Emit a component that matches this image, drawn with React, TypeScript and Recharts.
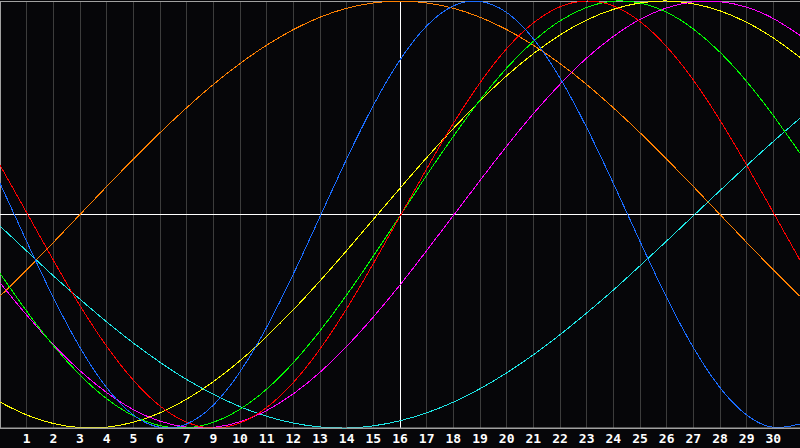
import React from "react"
import {
  LineChart,
  Line,
  XAxis,
  YAxis,
  CartesianGrid,
  ReferenceLine,
  ReferenceArea,
} from "recharts"

// x positions (day slots across the chart, 0 = left edge)
const DAYS = [0, 1, 2, 3, 4, 5, 6, 7, 8, 9, 10, 11, 12, 13, 14, 15, 16, 17, 18, 19, 20, 21, 22, 23, 24, 25, 26, 27, 28, 29, 30]

// tick slots and the date printed under each one (the "8" is absent on the original)
const TICK_SLOTS = [1, 2, 3, 4, 5, 6, 7, 8, 9, 10, 11, 12, 13, 14, 15, 16, 17, 18, 19, 20, 21, 22, 23, 24, 25, 26, 27, 28, 29]
const TICK_LABELS = ["1", "2", "3", "4", "5", "6", "7", "9", "10", "11", "12", "13", "14", "15", "16", "17", "18", "19", "20", "21", "22", "23", "24", "25", "26", "27", "28", "29", "30"]

const TODAY_SLOT = 15

// curve values, one per day slot (range -1..1)
const blue = [0.146, -0.126, -0.389, -0.623, -0.811, -0.939, -0.997, -0.981, -0.893, -0.737, -0.528, -0.279, -0.01, 0.26, 0.511, 0.724, 0.883, 0.977, 0.998, 0.946, 0.823, 0.639, 0.407, 0.146, -0.126, -0.389, -0.623, -0.811, -0.939, -0.997, -0.981]
const red = [0.231, 0.009, -0.214, -0.427, -0.617, -0.776, -0.897, -0.973, -1.0, -0.977, -0.904, -0.787, -0.63, -0.441, -0.23, -0.008, 0.214, 0.427, 0.617, 0.777, 0.897, 0.973, 1.0, 0.977, 0.904, 0.786, 0.63, 0.441, 0.231, 0.009, -0.214]
const green = [-0.276, -0.453, -0.614, -0.752, -0.863, -0.943, -0.989, -0.999, -0.973, -0.912, -0.818, -0.694, -0.545, -0.377, -0.195, -0.006, 0.184, 0.366, 0.536, 0.686, 0.811, 0.907, 0.97, 0.999, 0.991, 0.947, 0.869, 0.76, 0.623, 0.463, 0.287]
const orange = [-0.383, -0.259, -0.131, 0, 0.131, 0.259, 0.383, 0.5, 0.609, 0.707, 0.793, 0.866, 0.924, 0.966, 0.991, 1.0, 0.991, 0.966, 0.924, 0.866, 0.793, 0.707, 0.609, 0.5, 0.383, 0.259, 0.131, 0, -0.131, -0.259, -0.383]
const yellow = [-0.879, -0.939, -0.979, -0.998, -0.996, -0.973, -0.929, -0.865, -0.783, -0.685, -0.571, -0.446, -0.311, -0.169, -0.023, 0.123, 0.266, 0.403, 0.532, 0.65, 0.753, 0.841, 0.911, 0.961, 0.991, 1.0, 0.987, 0.954, 0.9, 0.827, 0.736]
const magenta = [-0.32, -0.471, -0.61, -0.732, -0.834, -0.914, -0.968, -0.996, -0.997, -0.971, -0.918, -0.84, -0.739, -0.618, -0.48, -0.33, -0.169, -0.005, 0.159, 0.32, 0.472, 0.61, 0.733, 0.834, 0.914, 0.968, 0.996, 0.997, 0.971, 0.918, 0.839]
const cyan = [-0.054, -0.171, -0.287, -0.397, -0.503, -0.602, -0.692, -0.773, -0.842, -0.9, -0.945, -0.977, -0.995, -1.0, -0.99, -0.966, -0.929, -0.879, -0.816, -0.742, -0.657, -0.563, -0.461, -0.354, -0.24, -0.124, -0.006, 0.112, 0.229, 0.342, 0.451]

const SERIES = [
  { key: "orange", values: orange, color: "#ff8000" },
  { key: "cyan", values: cyan, color: "#1ee6e6" },
  { key: "yellow", values: yellow, color: "#ffff00" },
  { key: "magenta", values: magenta, color: "#ff00ff" },
  { key: "green", values: green, color: "#00ff00" },
  { key: "red", values: red, color: "#ff0000" },
  { key: "blue", values: blue, color: "#1a6cff" },
]

const BG = "#060609"

export default function App() {
  const data = DAYS.map((day, i) => {
    const row: Record<string, number> = { day }
    SERIES.forEach((s) => {
      row[s.key] = s.values[i]
    })
    return row
  })

  return (
    <div style={{ width: 800, height: 448, background: BG }}>
      <style>{`body{margin:0;background:${BG};}`}</style>
      <LineChart width={800} height={448} data={data} margin={{ top: 1, right: 0, bottom: 0, left: 0 }}>
        <CartesianGrid horizontal={false} stroke="#3c3c3c" shapeRendering="crispEdges" />
        <XAxis
          type="number"
          dataKey="day"
          domain={[0, 30]}
          ticks={TICK_SLOTS}
          interval={0}
          tickLine={false}
          tickSize={0}
          tickMargin={6}
          height={20}
          stroke="#a0a0a0"
          tick={{ fill: "#ffffff", fontSize: 13, fontWeight: "bold", fontFamily: "DejaVu Sans Mono" }}
          tickFormatter={(v: number) => TICK_LABELS[TICK_SLOTS.indexOf(v)] ?? ""}
        />
        <YAxis hide domain={[-1, 1]} />
        <ReferenceArea x1={0} x2={30} y1={-1} y2={1} fill="none" stroke="#a0a0a0" strokeWidth={1} shapeRendering="crispEdges" />
        <ReferenceLine y={0} stroke="#ffffff" strokeWidth={1} shapeRendering="crispEdges" />
        <ReferenceLine x={TODAY_SLOT} stroke="#ffffff" strokeWidth={1} shapeRendering="crispEdges" />
        {SERIES.map((s) => (
          <Line
            key={s.key}
            type="natural"
            dataKey={s.key}
            stroke={s.color}
            strokeWidth={1}
            shapeRendering="crispEdges"
            dot={false}
            isAnimationActive={false}
          />
        ))}
      </LineChart>
    </div>
  )
}
